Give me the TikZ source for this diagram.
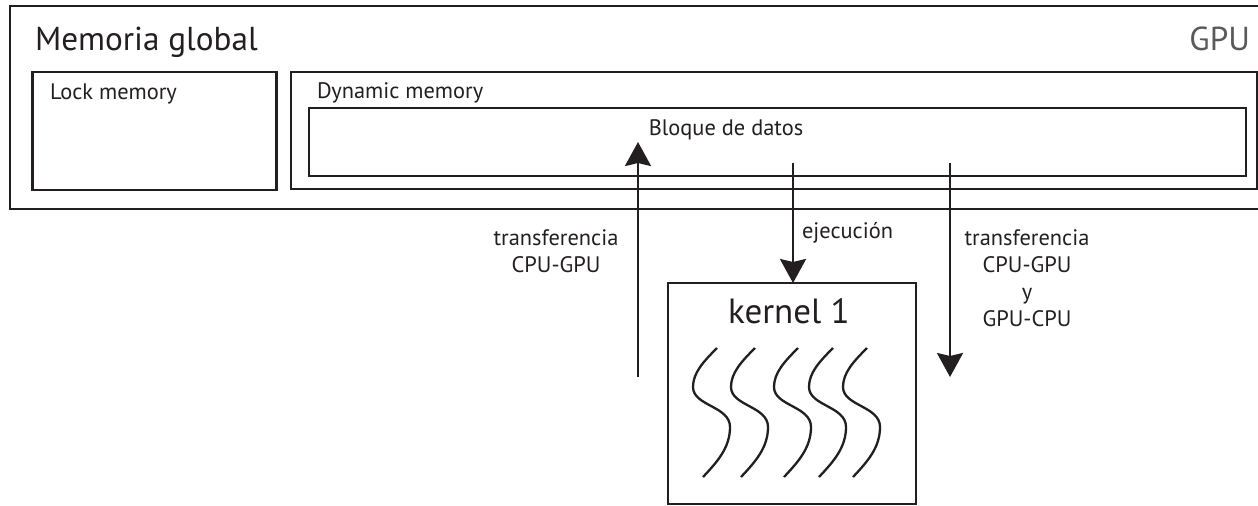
\documentclass[tikz,border=0pt]{standalone}
\usepackage{fontspec}
\setmainfont{PT Sans}
\usetikzlibrary{arrows.meta}
\definecolor{ink}{HTML}{231F20}
\definecolor{gpugray}{HTML}{58595B}
\tikzset{
  box/.style={draw=ink, line width=1.45pt, inner sep=0pt, outer sep=0pt, fill=white},
  lbl/.style={inner sep=0pt, outer sep=0pt, text=ink, font=\fontsize{11.2}{13.6}\selectfont},
  big/.style={inner sep=0pt, outer sep=0pt, text=ink, font=\fontsize{16.6}{20}\selectfont},
  flow/.style={draw=ink, line width=1.3pt, -{Stealth[length=12pt,width=13pt,inset=1.5pt]}},
  thread/.style={draw=ink, line width=1.15pt}
}
\begin{document}
\begin{tikzpicture}[x=0.5pt,y=-0.5pt]
\useasboundingbox (0,0) rectangle (1258,505);
\clip (0,0) rectangle (1258,505);
% boxes
\node[box, minimum width=1258*0.5pt, minimum height=203*0.5pt] (outer) at (639,107.5) {};
\node[box, minimum width=244*0.5pt, minimum height=118*0.5pt] (lock) at (154.5,131) {};
\node[box, minimum width=966*0.5pt, minimum height=117*0.5pt] (dyn) at (774,130.5) {};
\node[box, minimum width=937*0.5pt, minimum height=68*0.5pt] (bloque) at (777.5,142) {};
\node[box, minimum width=248*0.5pt, minimum height=221*0.5pt] (kernel) at (792,393.5) {};
% texts
\node[big, anchor=base west] (tglobal) at (35,50) {Memoria global};
\node[big, anchor=base east, text=gpugray] (tgpu) at (1250,50) {GPU};
\node[lbl, anchor=base west] (tlock) at (50,99) {Lock memory};
\node[lbl, anchor=base west] (tdyn) at (317,98) {Dynamic memory};
\node[lbl, anchor=base] (tbloque) at (726,135) {Bloque de datos};
\node[big, anchor=base, font=\fontsize{17.5}{20}\selectfont] (tkernel) at (789,323) {kernel 1};
\node[lbl, anchor=base west] (tejec) at (802,238) {ejecución};
\node[lbl, anchor=base] (tleft) at (556,245) {\begin{tabular}[t]{@{}c@{}}transferencia\\CPU-GPU\end{tabular}};
\node[lbl, anchor=base] (tright) at (1027,245) {\begin{tabular}[t]{@{}c@{}}transferencia\\CPU-GPU\\y\\GPU-CPU\end{tabular}};
% arrows
\coordinate (upstart) at (638,377);
\coordinate (upend) at (638,142);
\coordinate (downstart) at (793,163);
\coordinate (rstart) at (950,163);
\coordinate (rend) at (950,377);
\draw[flow] (upstart) -- (upend);
\draw[flow] (downstart) -- (downstart |- kernel.north);
\draw[flow] (rstart) -- (rend);
% threads
\foreach \x in {693,731,774,809,843}{
  \draw[thread] (\x+24,348) .. controls (\x+10,362) and (\x,373) .. (\x,387)
     .. controls (\x,406) and (\x+37,406) .. (\x+37,427)
     .. controls (\x+37,448) and (\x+24,462) .. (\x+10,477);
}
\end{tikzpicture}
\end{document}
